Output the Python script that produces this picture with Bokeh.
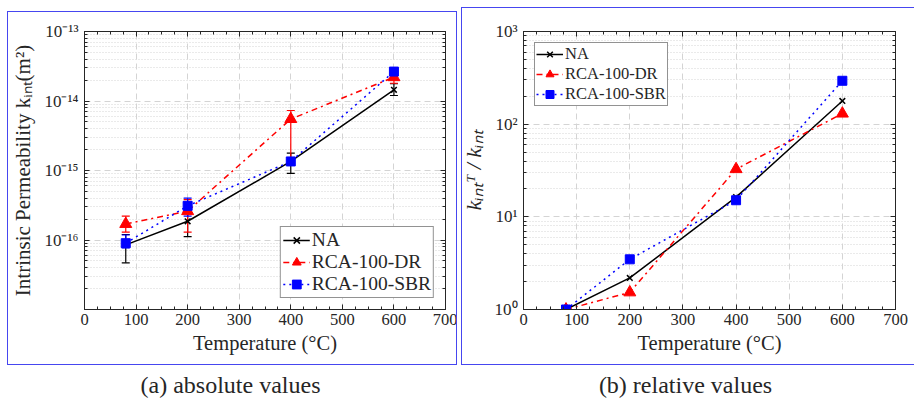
from bokeh.plotting import figure
from bokeh.models import (ColumnDataSource, Whisker, TeeHead, FixedTicker, LinearAxis, LogAxis,
                          CustomJSTickFormatter, Range1d, Label, InlineStyleSheet)
from bokeh.layouts import row, column
from bokeh.embed import file_html
from bokeh.resources import INLINE

# ---------------- data ----------------
temps = [80, 200, 400, 600]

# (a) absolute intrinsic permeability (m^2)
na_k = [8.5e-17, 1.86e-16, 1.35e-15, 1.45e-14]
na_lo = [4.7e-17, 1.12e-16, 9.1e-16, 1.2e-14]
na_hi = [1.2e-16, 2.6e-16, 1.78e-15, 1.77e-14]

dr_k = [1.7e-16, 2.6e-16, 5.5e-15, 2.2e-14]
dr_lo = [1.3e-16, 1.3e-16, 1.4e-15, 1.8e-14]
dr_hi = [2.2e-16, 3.8e-16, 7.3e-15, 2.6e-14]

sbr_k = [9.0e-17, 3.1e-16, 1.35e-15, 2.65e-14]
sbr_lo = [7.7e-17, 2.2e-16, 1.25e-15, 2.5e-14]
sbr_hi = [1.18e-16, 4.0e-16, 1.45e-15, 2.8e-14]

# (b) relative values k_int^T / k_int
na_rel = [1.0, 2.19, 16.3, 178]
dr_rel = [1.0, 1.53, 32.7, 130]
sbr_rel = [1.0, 3.48, 15.1, 294]

series_names = ["NA", "RCA-100-DR", "RCA-100-SBR"]
x_ticks = [0, 100, 200, 300, 400, 500, 600, 700]
ya_ticks = [1e-16, 1e-15, 1e-14, 1e-13]
yb_ticks = [1, 10, 100, 1000]

SERIF = "Liberation Serif"
GRID = "#d4d4d4"
INK = "#262626"

sup_js = """
const sup = {'-':'\u207b','0':'\u2070','1':'\u00b9','2':'\u00b2','3':'\u00b3','4':'\u2074',
             '5':'\u2075','6':'\u2076','7':'\u2077','8':'\u2078','9':'\u2079'};
const e = Math.round(Math.log10(tick));
return '10' + String(e).split('').map(c => sup[c]).join('');
"""


def log_minor(decade_start, decade_end):
    out = []
    for d in range(decade_start, decade_end):
        for m in range(2, 10):
            out.append(m * 10.0 ** d)
    return out


def style(p, yticks, yminor, ylabel, ylabel_size, ylabel_italic=False):
    p.background_fill_color = "white"
    p.outline_line_color = INK
    p.outline_line_width = 1
    xminor = list(range(0, 701, 25))
    p.xaxis.ticker = FixedTicker(ticks=x_ticks, minor_ticks=xminor)
    p.yaxis.ticker = FixedTicker(ticks=yticks, minor_ticks=yminor)
    p.yaxis.formatter = CustomJSTickFormatter(code=sup_js)
    for ax in (p.xaxis[0], p.yaxis[0]):
        ax.major_tick_in = 5
        ax.major_tick_out = 0
        ax.minor_tick_in = 3
        ax.minor_tick_out = 0
        ax.axis_line_color = INK
        ax.major_tick_line_color = INK
        ax.minor_tick_line_color = INK
        ax.major_label_text_font = SERIF
        ax.major_label_text_color = INK
        ax.axis_label_text_font = SERIF
        ax.axis_label_text_font_style = "normal"
        ax.axis_label_text_color = INK
    p.xaxis.major_label_text_font_size = "16.5px"
    p.yaxis.major_label_text_font_size = "17px"
    p.xaxis.axis_label = "Temperature (\u00b0C)"
    p.xaxis.axis_label_text_font_size = "20.5px"
    p.xaxis.major_label_standoff = 4
    p.xaxis.axis_label_standoff = 4
    p.yaxis.axis_label = ylabel
    p.yaxis.axis_label_text_font_size = ylabel_size
    if ylabel_italic:
        p.yaxis.axis_label_text_font_style = "italic"
    p.yaxis.major_label_standoff = 6
    p.yaxis.axis_label_standoff = 6
    top = LinearAxis(ticker=FixedTicker(ticks=x_ticks, minor_ticks=xminor),
                     formatter=CustomJSTickFormatter(code="return '';"),
                     major_label_text_font_size="2px", major_tick_in=5, major_tick_out=0,
                     minor_tick_in=3, minor_tick_out=0, axis_line_color=INK,
                     major_tick_line_color=INK, minor_tick_line_color=INK,
                     major_label_standoff=0)
    right = LogAxis(ticker=FixedTicker(ticks=yticks, minor_ticks=yminor),
                    formatter=CustomJSTickFormatter(code="return '';"),
                    major_label_text_font_size="2px", major_tick_in=5, major_tick_out=0,
                    minor_tick_in=3, minor_tick_out=0, axis_line_color=INK,
                    major_tick_line_color=INK, minor_tick_line_color=INK,
                    major_label_standoff=0)
    p.add_layout(top, "above")
    p.add_layout(right, "right")
    p.xgrid.grid_line_color = GRID
    p.xgrid.grid_line_dash = "6 4"
    p.ygrid.grid_line_color = GRID
    p.ygrid.grid_line_dash = "6 4"
    p.ygrid.minor_grid_line_color = GRID
    p.ygrid.minor_grid_line_dash = "1 2"


def add_series(p, x, y, color, dash, marker, msize, label, lo=None, hi=None):
    data = dict(x=x, y=y)
    if lo is not None:
        data["lo"] = lo
        data["hi"] = hi
    src = ColumnDataSource(data)
    if lo is not None:
        w = Whisker(source=src, base="x", lower="lo", upper="hi", dimension="height",
                    line_color=color, line_width=1.2,
                    upper_head=TeeHead(size=8, line_color=color, line_width=1.2),
                    lower_head=TeeHead(size=8, line_color=color, line_width=1.2))
        p.add_layout(w)
    p.line("x", "y", source=src, line_color=color, line_width=1.5, line_dash=dash,
           legend_label=label)
    if marker == "x":
        p.scatter("x", "y", source=src, marker="x", size=msize, line_color=color,
                  line_width=1.5, legend_label=label)
    else:
        p.scatter("x", "y", source=src, marker=marker, size=msize, fill_color=color,
                  line_color=color, legend_label=label)


def style_legend(lg, loc, font, row_h, pad):
    lg.location = loc
    lg.margin = 11
    lg.padding = pad
    lg.spacing = 0
    lg.label_text_font = SERIF
    lg.label_text_font_size = font
    lg.label_text_color = INK
    lg.label_height = row_h
    lg.glyph_height = row_h
    lg.glyph_width = 27
    lg.label_standoff = 2
    lg.border_line_color = INK
    lg.border_line_width = 1
    lg.background_fill_alpha = 1


# ---------------- (a) ----------------
p1 = figure(width=457, height=366, x_range=Range1d(0, 700), y_range=Range1d(1e-17, 1e-13),
            y_axis_type="log", output_backend="svg", toolbar_location=None,
            min_border_left=84, min_border_right=12, min_border_top=31, min_border_bottom=56)
style(p1, ya_ticks, log_minor(-17, -13),
      "Intrinsic Permeability k\u1d62\u2099\u209c(m\u00b2)", "21px")
add_series(p1, temps, na_k, "black", "solid", "x", 8, series_names[0], na_lo, na_hi)
add_series(p1, temps, dr_k, "#ff0000", "dashdot", "triangle", 12, series_names[1], dr_lo, dr_hi)
add_series(p1, temps, sbr_k, "#0000ff", "dotted", "square", 9, series_names[2], sbr_lo, sbr_hi)
style_legend(p1.legend[0], "bottom_right", "19.5px", 22, 2)

# ---------------- (b) ----------------
p2 = figure(width=457, height=366, x_range=Range1d(0, 700), y_range=Range1d(1, 1000),
            y_axis_type="log", output_backend="svg", toolbar_location=None,
            min_border_left=65, min_border_right=19, min_border_top=27, min_border_bottom=57)
style(p2, yb_ticks, log_minor(0, 3), "k\u1d62\u2099\u209c\u1d40 / k\u1d62\u2099\u209c", "22px",
      ylabel_italic=True)
add_series(p2, temps, na_rel, "black", "solid", "x", 8, series_names[0])
add_series(p2, temps, dr_rel, "#ff0000", "dashdot", "triangle", 12, series_names[1])
add_series(p2, temps, sbr_rel, "#0000ff", "dotted", "square", 9, series_names[2])
style_legend(p2.legend[0], "top_left", "16.5px", 20, 1)

# subfigure bounding boxes (blue frames) drawn as CSS overlays
css1 = (":host::after { content: ''; position: absolute; top: 11px; left: 7px; right: 0px; "
        "bottom: 1px; border: 1.5px solid #4646f0; pointer-events: none; z-index: 50; }")
css2 = (":host::after { content: ''; position: absolute; top: 7px; left: 4px; right: 0px; "
        "bottom: 1px; border: 1.5px solid #4646f0; border-right: none; pointer-events: none; "
        "z-index: 50; }")
p1.stylesheets = [InlineStyleSheet(css=css1)]
p2.stylesheets = [InlineStyleSheet(css=css2)]

# ---------------- captions ----------------
cap = figure(width=914, height=34, x_range=Range1d(0, 914), y_range=Range1d(0, 34),
             output_backend="svg", toolbar_location=None, min_border=0)
cap.axis.visible = False
cap.grid.visible = False
cap.outline_line_color = None
for txt, xc in (("(a) absolute values", 230), ("(b) relative values", 685)):
    cap.add_layout(Label(x=xc, y=16, x_units="screen", y_units="screen", text=txt,
                         text_align="center", text_baseline="middle",
                         text_font=SERIF, text_font_size="24px", text_color=INK))

layout = column(row(p1, p2), cap)
open("out.html", "w").write(file_html(layout, INLINE))
